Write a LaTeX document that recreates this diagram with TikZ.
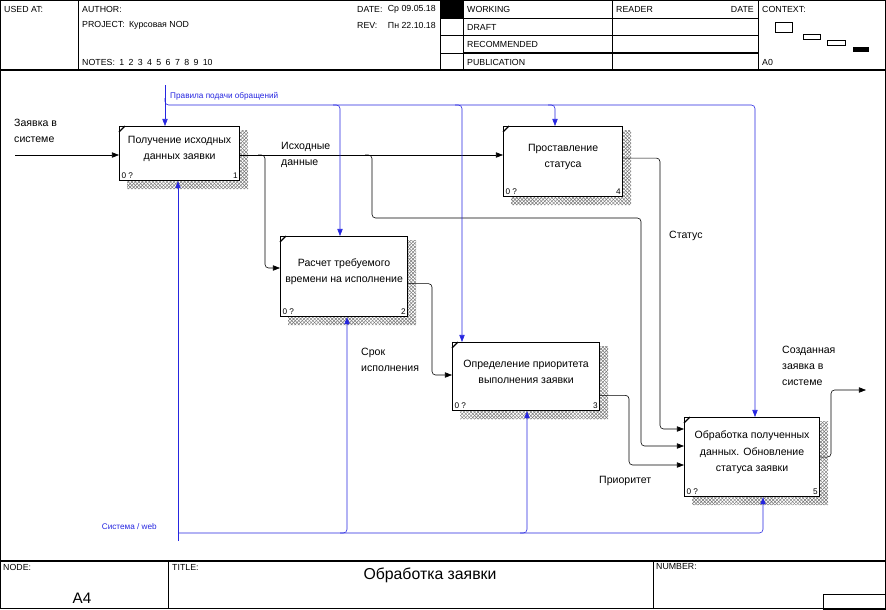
\documentclass[tikz,border=0pt]{standalone}
\usepackage{fontspec}
\setmainfont{Liberation Sans}
\definecolor{IdefBlue}{HTML}{2626E0}
\definecolor{IdefShade}{HTML}{777777}
\usetikzlibrary{arrows.meta,patterns,calc,backgrounds}

\tikzset{
  func/.style={draw, line width=1pt, fill=white, anchor=north west, inner sep=0pt},
  functext/.style={align=center, font=\fontsize{9}{14}\selectfont},
  numtext/.style={font=\fontsize{7}{8}\selectfont, inner sep=2pt},
  flow/.style={draw, line width=0.5pt, rounded corners=3pt, -{Triangle[length=6pt,width=4.5pt]}},
  ctrl/.style={draw=IdefBlue, line width=0.5pt, rounded corners=3pt, -{Triangle[length=6pt,width=4.5pt]}},
  arrlabel/.style={font=\fontsize{9}{13.5}\selectfont, align=left, anchor=west, inner sep=0pt},
  ctrllabel/.style={text=IdefBlue, font=\fontsize{7}{8}\selectfont, inner sep=0pt},
  headtext/.style={font=\fontsize{7.5}{8}\selectfont, anchor=west, inner sep=0pt},
  frameline/.style={line width=0.6pt}
}

% IDEF0 function box: name, corner, width, height, text, number
\newcommand{\idefbox}[6]{%
  \node[func, minimum width=#3, minimum height=#4] (#1) at (#2) {};
  \node[functext] (#1t) at ([yshift=4pt]#1.center) {#5};
  \node[numtext, anchor=south west] (#1c) at (#1.south west) {0 ?};
  \node[numtext, anchor=south east] (#1n) at (#1.south east) {#6};
  \draw[line width=1pt] ($(#1.north west)+(0,6)$) -- ($(#1.north west)+(6,0)$);
}

\begin{document}
\begin{tikzpicture}[x=0.03cm, y=-0.03cm]
  \useasboundingbox (0,0) rectangle (886,609);

  % frame and header
  \draw[frameline] (0.5,0.5) rectangle (885.5,608.5);
  \draw[line width=1.2pt] (0,70) -- (886,70);
  \draw[line width=1.2pt] (0,561) -- (886,561);
  \foreach \x in {78,440,463,612,758}
    \draw[frameline] (\x,0) -- (\x,70);
  \foreach \y in {18,35}
    \draw[frameline] (440,\y) -- (758,\y);
  \draw[frameline] (440,53) -- (463,53);
  \draw[line width=1pt] (463,53) -- (758,53);
  \fill (440,0) rectangle (463,18);

  \node[headtext] (usedat) at (4,9) {USED AT:};
  \node[headtext] (author) at (82,9) {AUTHOR:};
  \node[headtext] (project) at (82,25) {PROJECT:\enspace Курсовая NOD};
  \node[headtext] (notes) at (82,62) {NOTES:\enspace 1\enspace 2\enspace 3\enspace 4\enspace 5\enspace 6\enspace 7\enspace 8\enspace 9\enspace 10};
  \node[headtext] (date) at (357,9) {DATE:};
  \node[headtext, anchor=east] (dateval) at (436,9) {Ср 09.05.18};
  \node[headtext] (rev) at (357,25) {REV:};
  \node[headtext, anchor=east] (revval) at (436,25) {Пн 22.10.18};
  \node[headtext] (working) at (467,9) {WORKING};
  \node[headtext] (draft) at (467,27) {DRAFT};
  \node[headtext] (recommended) at (467,44) {RECOMMENDED};
  \node[headtext] (publication) at (467,62) {PUBLICATION};
  \node[headtext] (reader) at (616,9) {READER};
  \node[headtext, anchor=east] (readerdate) at (754,9) {DATE};
  \node[headtext] (context) at (762,9) {CONTEXT:};
  \node[headtext] (ctxnode) at (762,62) {A0};

  % context boxes
  \draw (775,22) rectangle (792,32);
  \draw (803,34) rectangle (820,39);
  \draw (827,40) rectangle (845,45);
  \fill (853,47) rectangle (869,52);

  % footer
  \foreach \x in {168,653}
    \draw[frameline] (\x,561) -- (\x,609);
  \draw[frameline] (823,594) rectangle (886,609);
  \node[headtext] (nodehead) at (3,567) {NODE:};
  \node[headtext] (titlehead) at (172,567) {TITLE:};
  \node[headtext] (numberhead) at (656,567) {NUMBER:};
  \node[font=\fontsize{13}{15}\selectfont] (nodeval) at (82,598) {A4};
  \node[font=\fontsize{13.5}{15}\selectfont] (titleval) at (430,575) {Обработка заявки};

  % functions
  \idefbox{a1}{119,126}{3.6cm}{1.62cm}{Получение исходных\\данных заявки}{1}
  \idefbox{a2}{280,236}{3.81cm}{2.4cm}{Расчет требуемого\\времени на исполнение}{2}
  \idefbox{a3}{452,342}{4.41cm}{2.04cm}{Определение приоритета\\выполнения заявки}{3}
  \idefbox{a4}{503,126}{3.57cm}{2.1cm}{Проставление\\статуса}{4}
  \idefbox{a5}{684,417}{4.05cm}{2.37cm}{Обработка полученных\\данных. Обновление\\статуса заявки}{5}

  \begin{scope}[on background layer]
    \foreach \b in {a1,a2,a3,a4,a5}
      \fill[pattern=crosshatch, pattern color=IdefShade]
        ($(\b.north east)+(0,4)$) rectangle ($(\b.south east)+(8,8)$)
        ($(\b.south west)+(8,0)$) rectangle ($(\b.south east)+(8,8)$);
  \end{scope}

  % inputs and outputs
  \coordinate (zin) at (15,155);
  \draw[flow] (zin) -- (zin -| a1.west);
  \node[arrlabel] (zinlab) at (14,131) {Заявка в\\системе};

  \draw[flow] (a1.east |- zin) -- (a4.west |- zin);
  \node[arrlabel] (srclab) at (281,155) {Исходные\\данные};
  \coordinate (j1) at (258,155);
  \coordinate (d1) at (265,268);
  \draw[flow] (j1) -| (d1) -- (d1 -| a2.west);
  \coordinate (j2) at (365,155);
  \coordinate (d2) at (372,218);
  \coordinate (d3) at (641,446);
  \draw[flow] (j2) -| (d2) -| (d3) -- (d3 -| a5.west);

  \coordinate (d4) at (660,429);
  \draw[flow] ([yshift=3pt]a4.east) -| (d4) -- (d4 -| a5.west);
  \node[arrlabel] (statlab) at (669,236) {Статус};

  \coordinate (d5) at (432,375);
  \draw[flow] ([yshift=-6pt]a2.east) -| (d5) -- (d5 -| a3.west);
  \node[arrlabel] (termlab) at (361,360) {Срок\\исполнения};

  \coordinate (d6) at (629,465);
  \draw[flow] ([yshift=-16pt]a3.east) -| (d6) -- (d6 -| a5.west);
  \node[arrlabel] (priolab) at (599,481) {Приоритет};

  \coordinate (d7) at (831,390);
  \coordinate (out5) at (866,390);
  \draw[flow] (a5.east) -| (d7) -- (out5);
  \node[arrlabel] (outlab) at (782,366) {Созданная\\заявка в\\системе};

  % controls
  \coordinate (c0) at (165,85);
  \draw[ctrl] (c0) -- (c0 |- a1.north);
  \node[ctrllabel, anchor=west] (ctrllab) at (170,96) {Правила подачи обращений};
  \coordinate (c0b) at (165,98);
  \coordinate (c1) at (755,105);
  \draw[ctrl] (c0b) |- (c1) -- (c1 |- a5.north);
  \foreach \cx/\b in {340/a2,462/a3,555/a4}
    \draw[ctrl] ($(\cx,105)+(-7,0)$) -| (\cx,105 |- \b.north);

  % mechanisms
  \coordinate (m0) at (178,541);
  \draw[ctrl] (m0) -- (m0 |- a1.south);
  \node[ctrllabel, anchor=east] (mechlab) at (157,527) {Система / web};
  \coordinate (m1) at (178,533);
  \coordinate (m4) at (763,533);
  \draw[ctrl] (m1) -- (m4) -- (m4 |- a5.south);
  \foreach \mx/\b in {347/a2,527/a3}
    \draw[ctrl] ($(\mx,533)+(-7,0)$) -| (\mx,533 |- \b.south);
\end{tikzpicture}
\end{document}
